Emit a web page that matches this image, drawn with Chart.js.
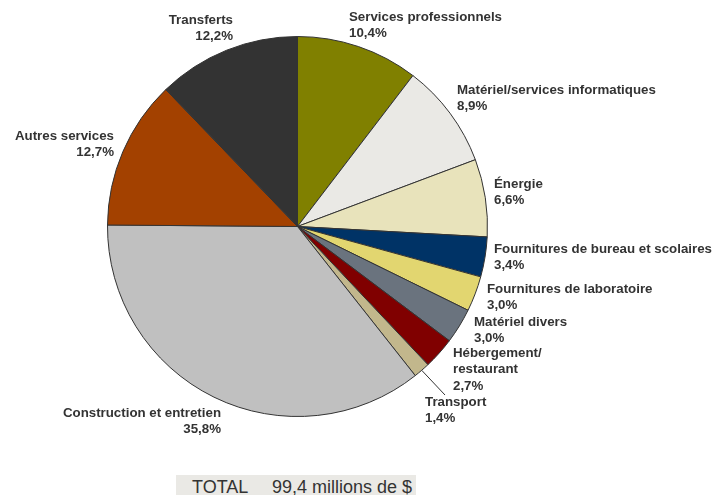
<!DOCTYPE html>
<html><head><meta charset="utf-8">
<script src="https://cdn.jsdelivr.net/npm/chart.js@4/dist/chart.umd.min.js"></script>
<style>
html,body{margin:0;padding:0;background:#fff;}
#wrap{position:relative;width:714px;height:495px;overflow:hidden;}
#total{position:absolute;left:176px;top:475px;width:240px;height:22px;background:#EAE9E5;font-family:"Liberation Sans",Arial,sans-serif;font-size:18px;color:#333;line-height:24px;}
#total span{position:absolute;top:0;}
</style></head>
<body>
<div id="wrap"><canvas id="c" width="714" height="495"></canvas>
<div id="total"><span style="left:16px">TOTAL</span><span style="left:96px">99,4 millions de $</span></div></div>
<script>
const categories = ["Services professionnels","Matériel/services informatiques","Énergie","Fournitures de bureau et scolaires","Fournitures de laboratoire","Matériel divers","Hébergement/\nrestaurant","Transport","Construction et entretien","Autres services","Transferts"];
const shares = [10.4, 8.9, 6.6, 3.4, 3.0, 3.0, 2.7, 1.4, 35.8, 12.7, 12.2];
const colors = ["#808000","#EAE9E5","#E8E3BB","#003366","#E2D670","#6A737E","#800000","#C2B78C","#C0C0C0","#A34100","#333333"];

// label layout: [x, y of first line, align]
const labelLayout = [
  [349, 17, "left"],
  [457, 90, "left"],
  [494, 184, "left"],
  [494, 249, "left"],
  [487, 289, "left"],
  [474, 322, "left"],
  [453, 353, "left"],
  [425, 402, "left"],
  [221, 413, "right"],
  [114, 136, "right"],
  [233, 20, "right"]
];
const lineH = 16.5;

const labelPlugin = {
  id: "labels",
  afterDraw(chart) {
    const ctx = chart.ctx;
    const meta = chart.getDatasetMeta(0);
    ctx.save();
    ctx.font = "bold 13.3px 'Liberation Sans', Arial, sans-serif";
    ctx.fillStyle = "#333";
    ctx.textBaseline = "middle";
    categories.forEach((cat, i) => {
      const [x, y, al] = labelLayout[i];
      const lines = cat.split("\n");
      lines.push(shares[i].toFixed(1).replace(".", ",") + "%");
      ctx.textAlign = al;
      lines.forEach((t, k) => ctx.fillText(t, x, y + k * lineH));
    });
    // leader line for Transport
    const arc = meta.data[7];
    const mid = (arc.startAngle + arc.endAngle) / 2;
    const sx = arc.x + Math.cos(mid) * arc.outerRadius;
    const sy = arc.y + Math.sin(mid) * arc.outerRadius;
    ctx.strokeStyle = "#333";
    ctx.lineWidth = 1;
    ctx.beginPath();
    ctx.moveTo(sx, sy);
    ctx.lineTo(445, 395);
    ctx.stroke();
    ctx.restore();
  }
};

new Chart(document.getElementById("c"), {
  type: "pie",
  data: { labels: categories, datasets: [{ data: shares, backgroundColor: colors, borderColor: "#333", borderWidth: 1 }] },
  options: {
    responsive: false,
    animation: false,
    layout: { padding: { left: 107, right: 226, top: 36, bottom: 78 } },
    plugins: { legend: { display: false }, tooltip: { enabled: false } }
  },
  plugins: [labelPlugin]
});
</script>
</body></html>
